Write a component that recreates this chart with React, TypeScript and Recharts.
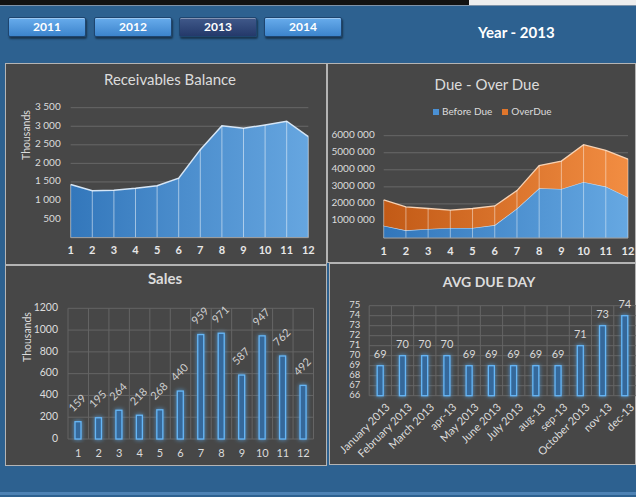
import React from 'react';
import { AreaChart, Area, BarChart, Bar, XAxis, YAxis, CartesianGrid, ReferenceLine, LabelList } from 'recharts';

const months = ['1', '2', '3', '4', '5', '6', '7', '8', '9', '10', '11', '12'];
const years = ['2011', '2012', '2013', '2014'];
const selectedYear = '2013';

// Receivables Balance (thousands)
const receivables = [1430, 1260, 1275, 1330, 1400, 1600, 2370, 3015, 2945, 3035, 3135, 2720];
const receivableTicks = [500, 1000, 1500, 2000, 2500, 3000, 3500];

// Due - Over Due
const beforeDue = [725000, 450000, 530000, 590000, 590000, 760000, 1730000, 2920000, 2880000, 3290000, 3020000, 2390000];
const overDue = [1510000, 1370000, 1200000, 1040000, 1140000, 1120000, 1050000, 1330000, 1630000, 2180000, 2120000, 2240000];
const dueTicks = [1000000, 2000000, 3000000, 4000000, 5000000, 6000000];

// Sales (thousands)
const sales = [159, 195, 264, 218, 268, 440, 959, 971, 587, 947, 762, 492];
const salesTicks = [0, 200, 400, 600, 800, 1000, 1200];

// AVG DUE DAY
const dueDayLabels = ['January 2013', 'February 2013', 'March 2013', 'apr-13', 'May 2013', 'June 2013', 'July 2013', 'aug-13', 'sep-13', 'October 2013', 'nov-13', 'dec-13'];
const avgDueDay = [69, 70, 70, 70, 69, 69, 69, 69, 69, 71, 73, 74];
const dayTicks = [66, 67, 68, 69, 70, 71, 72, 73, 74, 75];

const recData = months.map((m, i) => ({ month: m, value: receivables[i] }));
const dueData = months.map((m, i) => ({ month: m, before: beforeDue[i], over: overDue[i], total: beforeDue[i] + overDue[i] }));
const salesData = months.map((m, i) => ({ month: m, value: sales[i] }));
const dayData = dueDayLabels.map((m, i) => ({ month: m, value: avgDueDay[i] }));

const FONT = 'Lato, "Open Sans", sans-serif';
const PANEL_BG = '#474747';
const TEXT = '#dcdcdc';

const spaced = (v: number) => (v >= 1000 ? `${Math.floor(v / 1000)} ${String(v % 1000).padStart(3, '0')}` : String(v));
const millions = (v: number) => `${v / 1000} 000`;

const bandGrid = ({ offset }: any) =>
  Array.from({ length: 13 }, (_, i) => offset.left + (i * offset.width) / 12);

// plain y tick, no wrapping
const yTick = (fmt: (v: number) => string, size: number) => (p: any) => (
  <text x={p.x} y={p.y} textAnchor="end" dominantBaseline="middle" fill={TEXT} fontSize={size} fontFamily={FONT}>
    {fmt(p.payload.value)}
  </text>
);

const GlowDefs = ({ id }: { id: string }) => (
  <defs>
    <filter id={id} x="-150%" y="-20%" width="400%" height="140%">
      <feGaussianBlur in="SourceGraphic" stdDeviation="2" result="blur" />
      <feMerge>
        <feMergeNode in="blur" />
        <feMergeNode in="SourceGraphic" />
      </feMerge>
    </filter>
  </defs>
);

const glowBar = (filterId: string) => (props: any) => {
  const { x, y, width, height } = props;
  return (
    <rect x={x} y={y} width={width} height={height} fill="#35689a" stroke="#66b6f6" strokeWidth={1.3} filter={`url(#${filterId})`} />
  );
};

const Panel = ({ left, top, width, height }: any) => (
  <div style={{ position: 'absolute', left, top, width, height, boxSizing: 'border-box', border: '1px solid #b4b4b4', background: PANEL_BG }} />
);

const Title = ({ x, y, text, bold, size }: any) => (
  <div style={{ position: 'absolute', left: x - 100, top: y - 10, width: 200, height: 20, lineHeight: '20px', textAlign: 'center', color: TEXT, fontSize: size, fontWeight: bold ? 700 : 400, fontFamily: FONT }}>
    {text}
  </div>
);

const AxisTitle = ({ x, y, text }: any) => (
  <div style={{ position: 'absolute', left: x - 30, top: y - 7, width: 60, height: 14, lineHeight: '14px', textAlign: 'center', color: TEXT, fontSize: 10.5, fontFamily: FONT, transform: 'rotate(-90deg)' }}>
    {text}
  </div>
);

const Button = ({ left, label }: any) => {
  const active = label === selectedYear;
  return (
    <div
      style={{
        position: 'absolute', left, top: 17, width: 78, height: 20, boxSizing: 'border-box', borderRadius: 2,
        background: active ? 'linear-gradient(#40598a, #24396a)' : 'linear-gradient(#68acec, #3c84cc)',
        border: '1px solid #1e456f', boxShadow: '1px 2px 2px rgba(0,0,0,0.45), inset 0 1px 0 rgba(255,255,255,0.35)',
        color: '#fff', fontWeight: 700, fontSize: 12, textAlign: 'center', lineHeight: '18px', fontFamily: FONT,
      }}
    >
      {label}
    </div>
  );
};

const ReceivablesChart = () => (
  <div style={{ position: 'absolute', left: 5, top: 63 }}>
    <AreaChart width={322} height={202} data={recData} margin={{ top: 44.7, right: 18.7, bottom: 7.4, left: 0 }}>
      <defs>
        <linearGradient id="recFill" x1="0" y1="0" x2="1" y2="0">
          <stop offset="0" stopColor="#3377bb" />
          <stop offset="1" stopColor="#66a6e0" />
        </linearGradient>
      </defs>
      <CartesianGrid vertical={false} stroke="#686868" />
      <XAxis dataKey="month" height={20} interval={0} axisLine={{ stroke: '#a0a0a0' }} tickLine={false} tickSize={0} tickMargin={9} tick={{ fill: '#e8e8e8', fontSize: 11, fontWeight: 700, fontFamily: FONT }} />
      <YAxis width={65.7} domain={[0, 3500]} ticks={receivableTicks} interval={0} axisLine={false} tickLine={false} tickSize={0} tickMargin={10} tick={yTick(spaced, 10)} />
      <Area type="linear" dataKey="value" stroke="#d6e6f6" strokeWidth={1.5} fill="url(#recFill)" fillOpacity={1} isAnimationActive={false} />
      {recData.map((d) => (
        <ReferenceLine key={d.month} segment={[{ x: d.month, y: 0 }, { x: d.month, y: d.value }]} stroke="rgba(255,255,255,0.5)" strokeWidth={1} />
      ))}
    </AreaChart>
  </div>
);

const DueChart = () => (
  <div style={{ position: 'absolute', left: 327, top: 63 }}>
    <AreaChart width={309} height={200} data={dueData} margin={{ top: 72.7, right: 8, bottom: 5, left: 0 }}>
      <defs>
        <linearGradient id="beforeFill" x1="0" y1="0" x2="1" y2="0">
          <stop offset="0" stopColor="#3176bb" />
          <stop offset="1" stopColor="#66a8e2" />
        </linearGradient>
        <linearGradient id="overFill" x1="0" y1="0" x2="1" y2="0">
          <stop offset="0" stopColor="#c25a16" />
          <stop offset="1" stopColor="#f28d42" />
        </linearGradient>
      </defs>
      <CartesianGrid vertical={false} stroke="#686868" />
      <XAxis dataKey="month" height={20} interval={0} axisLine={{ stroke: '#a0a0a0' }} tickLine={false} tickSize={0} tickMargin={9} tick={{ fill: '#e8e8e8', fontSize: 11, fontWeight: 700, fontFamily: FONT }} />
      <YAxis width={56.7} domain={[0, 6000000]} ticks={dueTicks} interval={0} axisLine={false} tickLine={false} tickSize={0} tickMargin={9} tick={yTick(millions, 10)} />
      <Area type="linear" dataKey="before" stackId="due" stroke="#c4dcf2" strokeWidth={1.3} fill="url(#beforeFill)" fillOpacity={1} isAnimationActive={false} />
      <Area type="linear" dataKey="over" stackId="due" stroke="#f6d2b4" strokeWidth={1.3} fill="url(#overFill)" fillOpacity={1} isAnimationActive={false} />
      {dueData.map((d) => (
        <ReferenceLine key={d.month} segment={[{ x: d.month, y: 0 }, { x: d.month, y: d.total }]} stroke="rgba(255,255,255,0.45)" strokeWidth={1} />
      ))}
    </AreaChart>
  </div>
);

const SalesLabel = (props: any) => {
  const { x, y, width, value } = props;
  const cx = x + width / 2;
  const cy = y - 18;
  return (
    <text x={cx} y={cy} transform={`rotate(-45, ${cx}, ${cy})`} textAnchor="middle" dominantBaseline="middle" fill="#cfcfcf" fontSize={11} fontFamily={FONT}>
      {value}
    </text>
  );
};

const SalesChart = () => (
  <div style={{ position: 'absolute', left: 5, top: 265 }}>
    <BarChart width={322} height={201} data={salesData} margin={{ top: 43.3, right: 13.5, bottom: 7, left: 0 }}>
      <GlowDefs id="glowSales" />
      <CartesianGrid stroke="#656565" verticalCoordinatesGenerator={bandGrid} />
      <XAxis dataKey="month" height={20} interval={0} axisLine={false} tickLine={false} tickSize={0} tickMargin={10} tick={{ fill: TEXT, fontSize: 11, fontFamily: FONT }} />
      <YAxis width={63} domain={[0, 1200]} ticks={salesTicks} interval={0} axisLine={false} tickLine={false} tickSize={0} tickMargin={10} tick={yTick(String, 10.5)} />
      <Bar dataKey="value" barSize={6} shape={glowBar('glowSales')} isAnimationActive={false}>
        <LabelList dataKey="value" content={SalesLabel} />
      </Bar>
    </BarChart>
  </div>
);

const DayTick = (props: any) => {
  const { x, y, payload } = props;
  const tx = x + 4;
  const ty = y + 2;
  return (
    <text x={tx} y={ty} transform={`rotate(-45, ${tx}, ${ty})`} textAnchor="end" dominantBaseline="hanging" fill={TEXT} fontSize={11} fontFamily={FONT}>
      {payload.value}
    </text>
  );
};

const AvgDueDayChart = () => (
  <div style={{ position: 'absolute', left: 329, top: 263 }}>
    <BarChart width={307} height={202} data={dayData} margin={{ top: 42.7, right: 0, bottom: 7.3, left: 0 }}>
      <GlowDefs id="glowDays" />
      <CartesianGrid stroke="#656565" verticalCoordinatesGenerator={bandGrid} />
      <XAxis dataKey="month" height={62} interval={0} axisLine={false} tickLine={false} tickSize={0} tickMargin={4} tick={DayTick} />
      <YAxis width={40.2} domain={[66, 75]} ticks={dayTicks} interval={0} axisLine={false} tickLine={false} tickSize={0} tickMargin={9} tick={yTick(String, 9.5)} />
      <Bar dataKey="value" barSize={6} shape={glowBar('glowDays')} isAnimationActive={false}>
        <LabelList dataKey="value" position="top" offset={8} fill="#d8d8d8" fontSize={11} fontFamily={FONT} />
      </Bar>
    </BarChart>
  </div>
);

export default function App() {
  return (
    <div style={{ position: 'absolute', left: 0, top: 0, width: 636, height: 497, overflow: 'hidden', background: '#2d6190', fontFamily: FONT }}>
      <div style={{ position: 'absolute', left: 0, top: 0, width: 469, height: 5, background: '#121212' }} />
      <div style={{ position: 'absolute', left: 469, top: 0, width: 167, height: 5, background: '#eeeeee' }} />
      <div style={{ position: 'absolute', left: 0, top: 5, width: 636, height: 1, background: '#7f93a8' }} />
      {years.map((y, i) => (
        <Button key={y} left={[8, 94, 179, 264][i]} label={y} />
      ))}
      <div style={{ position: 'absolute', left: 478, top: 23, color: '#fff', fontWeight: 700, fontSize: 15, lineHeight: '18px', fontFamily: FONT }}>
        Year - {selectedYear}
      </div>

      <Panel left={5} top={63} width={322} height={202} />
      <Panel left={327} top={63} width={309} height={200} />
      <Panel left={5} top={265} width={322} height={201} />
      <Panel left={329} top={263} width={307} height={202} />

      <ReceivablesChart />
      <DueChart />
      <SalesChart />
      <AvgDueDayChart />

      <Title x={170} y={79} text="Receivables Balance" size={15} />
      <AxisTitle x={26} y={135} text="Thousands" />
      <Title x={487} y={84} text="Due - Over Due" size={15} />
      <div style={{ position: 'absolute', left: 433, top: 105, height: 12, lineHeight: '12px', fontSize: 10, color: TEXT, fontFamily: FONT, whiteSpace: 'nowrap' }}>
        <span style={{ display: 'inline-block', width: 6, height: 6, background: '#4a90d4', marginRight: 3 }} />
        Before Due
        <span style={{ display: 'inline-block', width: 6, height: 6, background: '#e0762c', marginLeft: 10, marginRight: 3 }} />
        OverDue
      </div>
      <Title x={165} y={278} text="Sales" size={15} bold />
      <AxisTitle x={27} y={337} text="Thousands" />
      <Title x={489} y={282} text="AVG DUE DAY" size={14} bold />

      <div style={{ position: 'absolute', left: 0, top: 492, width: 636, height: 3, background: '#4d82b4' }} />
    </div>
  );
}
